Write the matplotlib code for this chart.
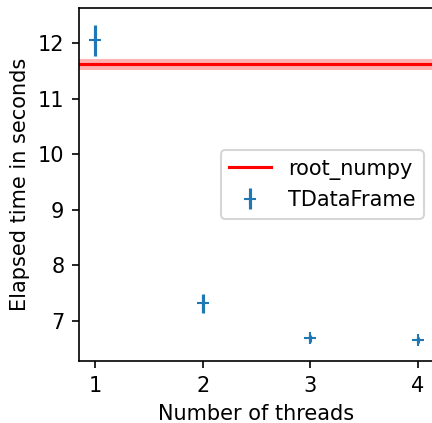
import matplotlib
matplotlib.use("Agg")
import matplotlib.pyplot as plt

# TDataFrame timings per thread count
threads = [1, 2, 3, 4]
tdf_mean = [12.05, 7.32, 6.69, 6.66]
tdf_err = [0.28, 0.17, 0.06, 0.06]

# root_numpy reference (single value with spread)
root_numpy_mean = 11.62
root_numpy_err = 0.10

fig = plt.figure(figsize=(4.32 / 1.5, 4.23 / 1.5), dpi=150)
ax = fig.add_axes([79 / 432, 62 / 423, 355 / 432, 353 / 423])

ax.axhline(root_numpy_mean, color="red", lw=1.5, label="root_numpy")
ax.axhspan(root_numpy_mean - root_numpy_err, root_numpy_mean + root_numpy_err,
           color="red", alpha=0.3, lw=0)
ax.errorbar(threads, tdf_mean, yerr=tdf_err, fmt="+", label="TDataFrame")

ax.set_xlim(0.85, 4.15)
ax.set_ylim(6.28, 12.63)
ax.set_xticks(threads)
ax.set_yticks([7, 8, 9, 10, 11, 12])
ax.set_xlabel("Number of threads")
ax.set_ylabel("Elapsed time in seconds")
ax.legend(loc="center right")

fig.savefig("out.png", dpi=150)
